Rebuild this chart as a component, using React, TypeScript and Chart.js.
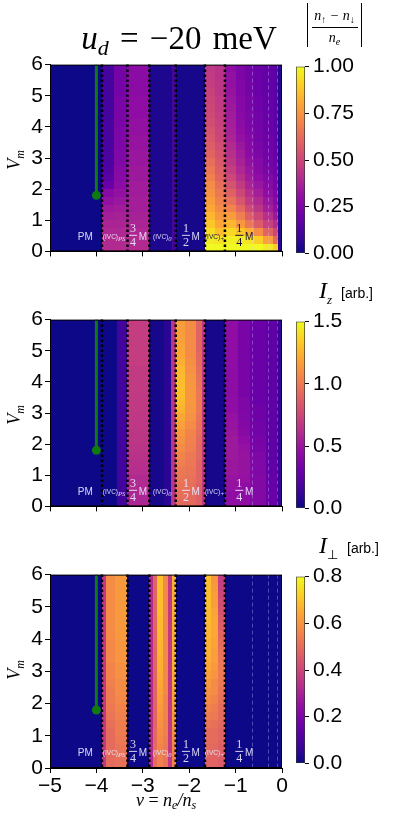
import React, { useEffect, useRef } from 'react';
import { Chart, registerables } from 'chart.js';
Chart.register(...registerables);
Chart.defaults.font.family = "'Liberation Sans', Arial, sans-serif";

// ---------------- data ----------------
const X_RANGE = [-5, 0];
const Y_RANGE = [0, 6];
const BOUNDARIES = [-3.88, -3.33, -2.86, -2.29, -1.66, -1.23];
const FAINT_LINES = [-0.65, -0.3, -0.1];
const GREEN_LINE_X = [-4, -4];
const GREEN_LINE_Y = [6, 1.8];

const CB1_MAX = 1.0, CB1_STEP = 0.25, CB1_DEC = 2;
const CB2_MAX = 1.5, CB2_STEP = 0.5, CB2_DEC = 1;
const CB3_MAX = 0.8, CB3_STEP = 0.2, CB3_DEC = 1;

// values listed from V=0 (bottom) upward, rows evenly spanning 0..6
// Panel 1 : |(n_up - n_down)/n_e|
const P1_BG = [0];
const P1_PS_L = [0.4,0.4,0.39,0.38,0.36,0.34,0.31,0.28,0.2,0.16,0.14,0.13,0.13,0.12,0.12,0.12,0.12,0.11,0.11,0.11,0.11,0.11,0.11,0.11];
const P1_PS_R = [0.4,0.4,0.39,0.38,0.37,0.35,0.33,0.31,0.29,0.28,0.27,0.26,0.26,0.25,0.25,0.25,0.24,0.24,0.24,0.24,0.23,0.23,0.23,0.23];
const P1_34M = [0.4,0.4,0.39,0.38,0.37,0.36,0.36,0.35,0.35,0.34,0.34,0.33,0.33,0.32,0.32,0.31,0.31,0.3,0.3,0.3,0.29,0.29,0.29,0.29];
const P1_IVC0 = [0.03];
const P1_IVC0_EDGE = [0.12];
const P1_12M = [0.02];
const P1_IVCP_L = [1.0,0.97,0.93,0.88,0.84,0.8,0.77,0.74,0.72,0.69,0.66,0.63,0.6,0.58,0.56,0.54,0.52,0.51,0.5,0.49,0.48,0.47,0.46,0.45];
const P1_IVCP_R = [1.0,0.95,0.86,0.8,0.76,0.72,0.69,0.66,0.63,0.6,0.58,0.56,0.54,0.52,0.5,0.49,0.48,0.47,0.46,0.45,0.44,0.44,0.43,0.43];
const P1_14M_A = [1.0,0.98,0.92,0.84,0.77,0.7,0.64,0.59,0.54,0.5,0.47,0.44,0.42,0.4,0.38,0.37,0.36,0.35,0.34,0.33,0.32,0.31,0.31,0.3];
const P1_14M_B = [1.0,0.97,0.88,0.76,0.68,0.61,0.55,0.5,0.46,0.42,0.39,0.37,0.35,0.33,0.31,0.3,0.29,0.28,0.27,0.27,0.26,0.26,0.25,0.25];
const P1_14M_C = [1.0,0.95,0.82,0.66,0.58,0.51,0.46,0.42,0.38,0.35,0.33,0.31,0.29,0.28,0.27,0.26,0.25,0.25,0.24,0.24,0.23,0.23,0.22,0.22];
const P1_14M_D = [1.0,0.9,0.72,0.57,0.5,0.44,0.4,0.36,0.33,0.3,0.28,0.27,0.25,0.24,0.23,0.23,0.22,0.22,0.21,0.21,0.2,0.2,0.2,0.2];
const P1_14M_E = [0.97,0.78,0.6,0.48,0.42,0.36,0.33,0.3,0.28,0.26,0.24,0.23,0.22,0.21,0.21,0.2,0.2,0.19,0.19,0.19,0.18,0.18,0.18,0.18];
const P1_14M_F = [0.9,0.62,0.5,0.4,0.34,0.3,0.27,0.25,0.23,0.22,0.21,0.2,0.19,0.19,0.18,0.18,0.17,0.17,0.17,0.16,0.16,0.16,0.16,0.16];
const P1_14M_G = [0.05];

// Panel 2 : I_z
const P2_BG = [0];
const P2_PS_EDGE = [0.15];
const P2_34M = [0.58,0.58,0.6,0.6,0.62,0.63,0.64,0.65,0.66,0.66,0.67,0.67,0.68,0.68,0.68,0.69,0.69,0.69,0.7,0.7,0.7,0.7,0.7,0.7];
const P2_IVC0 = [0.03];
const P2_IVC0_MID = [0.08];
const P2_IVC0_EDGE = [0.65];
const P2_12M_A = [0.93,0.95,0.96,0.98,0.99,1.02,1.05,1.08,1.11,1.14,1.17,1.2,1.25,1.28,1.29,1.29,1.28,1.26,1.23,1.2,1.19,1.17,1.16,1.16];
const P2_12M_B = [0.93,0.93,0.95,0.96,0.98,0.99,1.0,1.02,1.04,1.05,1.08,1.11,1.13,1.14,1.14,1.14,1.13,1.11,1.1,1.08,1.08,1.08,1.08,1.08];
const P2_12M_C = [0.88,0.88,0.88,0.9,0.9,0.9,0.92,0.92,0.93,0.95,0.96,0.98,1.0,1.0,1.0,0.98,0.96,0.95,0.93,0.92,0.9,0.9,0.9,0.9];
const P2_12M_D = [0.68];
const P2_IVCP = [0.03];
const P2_14M_A = [0.45,0.45,0.47,0.48,0.5,0.5,0.51,0.51,0.51,0.5,0.48,0.47,0.45,0.45,0.44,0.44,0.44,0.44,0.45,0.45,0.45,0.45,0.45,0.45];
const P2_14M_B = [0.45,0.45,0.45,0.47,0.48,0.48,0.48,0.47,0.45,0.42,0.41,0.39,0.38,0.38,0.36,0.36,0.36,0.36,0.36,0.36,0.36,0.36,0.36,0.36];
const P2_14M_C = [0.4,0.4,0.4,0.4,0.39,0.39,0.38,0.36,0.35,0.33,0.33,0.32,0.32,0.3,0.3,0.3,0.3,0.3,0.3,0.3,0.3,0.3,0.3,0.3];
const P2_14M_D = [0.3,0.3,0.29,0.28,0.27,0.27,0.26,0.26,0.26,0.26,0.26,0.26,0.26,0.26,0.26,0.26,0.26,0.26,0.26,0.26,0.26,0.26,0.26,0.26];
const P2_14M_E = [0.12];

// Panel 3 : I_perp
const P3_BG = [0];
const P3_PS_EDGE = [0.36];
const P3_PS_A = [0.5,0.5,0.5,0.5,0.5,0.51,0.52,0.53,0.54,0.54,0.55,0.56,0.56,0.57,0.57,0.57,0.58,0.58,0.58,0.58,0.58,0.58,0.58,0.58];
const P3_PS_B = [0.51,0.51,0.52,0.53,0.54,0.54,0.55,0.56,0.57,0.58,0.58,0.59,0.59,0.6,0.6,0.6,0.61,0.61,0.61,0.61,0.61,0.61,0.61,0.61];
const P3_IVC0_A = [0.32];
const P3_IVC0_B = [0.5,0.5,0.5,0.49,0.49,0.48,0.48,0.48,0.48,0.48,0.48,0.48,0.48,0.48,0.48,0.48,0.48,0.48,0.48,0.48,0.48,0.48,0.48,0.48];
const P3_IVC0_C = [0.55,0.55,0.56,0.57,0.58,0.59,0.6,0.61,0.62,0.63,0.64,0.65,0.66,0.66,0.67,0.67,0.68,0.68,0.68,0.69,0.69,0.69,0.69,0.69];
const P3_IVC0_D = [0.52,0.52,0.53,0.54,0.55,0.55,0.56,0.56,0.56,0.57,0.57,0.57,0.57,0.57,0.57,0.57,0.57,0.57,0.57,0.57,0.57,0.57,0.57,0.57];
const P3_IVC0_E = [0.36];
const P3_IVC0_F = [0.56,0.56,0.57,0.58,0.59,0.6,0.61,0.62,0.63,0.64,0.65,0.65,0.66,0.66,0.66,0.66,0.66,0.66,0.66,0.66,0.66,0.66,0.66,0.66];
const P3_IVCP_A = [0.48,0.48,0.49,0.5,0.5,0.52,0.54,0.56,0.58,0.59,0.61,0.62,0.64,0.65,0.66,0.66,0.67,0.67,0.68,0.68,0.69,0.69,0.69,0.69];
const P3_IVCP_B = [0.48,0.48,0.49,0.5,0.5,0.51,0.53,0.54,0.56,0.58,0.58,0.6,0.61,0.62,0.62,0.63,0.64,0.64,0.64,0.63,0.62,0.62,0.61,0.6];
const P3_IVCP_C = [0.46,0.46,0.47,0.48,0.48,0.49,0.5,0.5,0.51,0.52,0.53,0.53,0.53,0.52,0.51,0.5,0.48,0.46,0.45,0.43,0.42,0.4,0.38,0.37];

const P1_BANDS = [
  [-5, 0, P1_BG], [-3.88, -3.62, P1_PS_L], [-3.62, -3.33, P1_PS_R], [-3.33, -2.86, P1_34M],
  [-2.86, -2.38, P1_IVC0], [-2.38, -2.29, P1_IVC0_EDGE], [-2.29, -1.66, P1_12M],
  [-1.66, -1.45, P1_IVCP_L], [-1.45, -1.23, P1_IVCP_R],
  [-1.23, -1.0, P1_14M_A], [-1.0, -0.8, P1_14M_B], [-0.8, -0.6, P1_14M_C], [-0.6, -0.4, P1_14M_D],
  [-0.4, -0.2, P1_14M_E], [-0.2, -0.09, P1_14M_F], [-0.09, 0, P1_14M_G],
];
const P2_BANDS = [
  [-5, 0, P2_BG], [-3.55, -3.33, P2_PS_EDGE], [-3.33, -2.86, P2_34M],
  [-2.86, -2.55, P2_IVC0], [-2.55, -2.4, P2_IVC0_MID], [-2.4, -2.29, P2_IVC0_EDGE],
  [-2.29, -2.1, P2_12M_A], [-2.1, -1.85, P2_12M_B], [-1.85, -1.72, P2_12M_C], [-1.72, -1.66, P2_12M_D],
  [-1.66, -1.23, P2_IVCP],
  [-1.23, -0.95, P2_14M_A], [-0.95, -0.7, P2_14M_B], [-0.7, -0.35, P2_14M_C], [-0.35, -0.1, P2_14M_D], [-0.1, 0, P2_14M_E],
];
const P3_BANDS = [
  [-5, 0, P3_BG], [-3.88, -3.8, P3_PS_EDGE], [-3.8, -3.6, P3_PS_A], [-3.6, -3.33, P3_PS_B],
  [-2.86, -2.78, P3_IVC0_A], [-2.78, -2.7, P3_IVC0_B], [-2.7, -2.56, P3_IVC0_C], [-2.56, -2.46, P3_IVC0_D],
  [-2.46, -2.37, P3_IVC0_E], [-2.37, -2.29, P3_IVC0_F],
  [-1.66, -1.52, P3_IVCP_A], [-1.52, -1.38, P3_IVCP_B], [-1.38, -1.23, P3_IVCP_C],
];

const PHASE_LABELS = [
  { kind: 'text', text: 'PM', x: -4.24 },
  { kind: 'sub', text: '(IVC)', sub: 'PS', x: -3.62 },
  { kind: 'frac', num: '3', den: '4', x: -3.21 },
  { kind: 'text', text: 'M', x: -3.0 },
  { kind: 'sub', text: '(IVC)', sub: '0', x: -2.58 },
  { kind: 'frac', num: '1', den: '2', x: -2.07 },
  { kind: 'text', text: 'M', x: -1.86 },
  { kind: 'sub', text: '(IVC)', sub: '+', x: -1.45 },
  { kind: 'frac', num: '1', den: '4', x: -0.92 },
  { kind: 'text', text: 'M', x: -0.71 },
];
const LABEL_V = 0.5;
const P1_DARK_LABELS = [7, 8, 9];

// ---------------- style helpers ----------------
const PLASMA = ['#0d0887','#41049d','#6a00a8','#8f0da4','#b12a90','#cc4778','#e16462','#f2844b','#fca636','#fcce25','#f0f921'];
const PLASMA_RGB = PLASMA.map((h) => [1, 3, 5].map((i) => parseInt(h.slice(i, i + 2), 16)));
function plasma(t: number) {
  const c = Math.max(0, Math.min(1, t)) * 10;
  const i = Math.min(9, Math.floor(c));
  const f = c - i;
  const a = PLASMA_RGB[i], b = PLASMA_RGB[i + 1];
  return `rgb(${Math.round(a[0] + (b[0] - a[0]) * f)},${Math.round(a[1] + (b[1] - a[1]) * f)},${Math.round(a[2] + (b[2] - a[2]) * f)})`;
}
const GREEN = '#0f7a0f';
const SERIF = "'Liberation Serif', 'Times New Roman', serif";
const SANS = "'Liberation Sans', Arial, sans-serif";
const fmtMinus = (v: any) => (Number(v) < 0 ? '\u2212' + Math.abs(Number(v)) : String(v));

function heatmapPlugin(bands: any[], max: number, darkLabels: number[]) {
  return {
    id: 'heatmap',
    beforeDatasetsDraw(chart: any) {
      const { ctx, chartArea: ca, scales } = chart;
      const xs = scales.x, ys = scales.y;
      ctx.save();
      for (const [x0, x1, vals] of bands) {
        const n = vals.length;
        const l = Math.round(xs.getPixelForValue(x0));
        const r = Math.round(xs.getPixelForValue(x1));
        for (let i = 0; i < n; i++) {
          const v0 = Y_RANGE[0] + ((Y_RANGE[1] - Y_RANGE[0]) * i) / n;
          const v1 = Y_RANGE[0] + ((Y_RANGE[1] - Y_RANGE[0]) * (i + 1)) / n;
          const b = Math.round(ys.getPixelForValue(v0));
          const t = Math.round(ys.getPixelForValue(v1));
          ctx.fillStyle = plasma(vals[i] / max);
          ctx.fillRect(l, t, r - l, b - t);
        }
      }
      ctx.strokeStyle = 'rgba(210,200,255,0.35)';
      ctx.lineWidth = 1;
      ctx.setLineDash([4, 3]);
      for (const fx of FAINT_LINES) {
        const px = Math.round(xs.getPixelForValue(fx)) + 0.5;
        ctx.beginPath(); ctx.moveTo(px, ca.top); ctx.lineTo(px, ca.bottom); ctx.stroke();
      }
      ctx.strokeStyle = '#000';
      ctx.lineWidth = 2.5;
      ctx.setLineDash([2.5, 2.5]);
      for (const bx of BOUNDARIES) {
        const px = xs.getPixelForValue(bx);
        ctx.beginPath(); ctx.moveTo(px, ca.top); ctx.lineTo(px, ca.bottom); ctx.stroke();
      }
      ctx.restore();
    },
    afterDatasetsDraw(chart: any) {
      const { ctx, chartArea: ca, scales } = chart;
      const xs = scales.x, ys = scales.y;
      ctx.save();
      const yl = ys.getPixelForValue(LABEL_V);
      PHASE_LABELS.forEach((lab: any, idx: number) => {
        const px = xs.getPixelForValue(lab.x);
        ctx.fillStyle = darkLabels.includes(idx) ? '#1a1040' : 'rgba(235,235,255,0.9)';
        ctx.textBaseline = 'middle';
        if (lab.kind === 'text') {
          ctx.font = `10px ${SANS}`;
          ctx.textAlign = 'center';
          ctx.fillText(lab.text, px, yl + 1);
        } else if (lab.kind === 'sub') {
          ctx.font = `6.5px ${SANS}`;
          const w1 = ctx.measureText(lab.text).width;
          ctx.font = `italic 6.5px ${SERIF}`;
          const w2 = ctx.measureText(lab.sub).width;
          const start = px - (w1 + w2) / 2;
          ctx.textAlign = 'left';
          ctx.font = `6.5px ${SANS}`;
          ctx.fillText(lab.text, start, yl + 1);
          ctx.font = `italic 6.5px ${SERIF}`;
          ctx.fillText(lab.sub, start + w1, yl + 3);
        } else {
          ctx.font = `12px ${SERIF}`;
          ctx.textAlign = 'center';
          ctx.fillText(lab.num, px, yl - 7);
          ctx.fillRect(px - 4, yl - 1, 8, 1);
          ctx.fillText(lab.den, px, yl + 7);
        }
      });
      ctx.strokeStyle = '#000';
      ctx.lineWidth = 1;
      ctx.strokeRect(ca.left + 0.5, ca.top + 0.5, ca.right - ca.left - 1, ca.bottom - ca.top - 1);
      ctx.restore();
    },
  };
}

function makeMain(canvas: HTMLCanvasElement, bands: any[], max: number, showX: boolean, dark: number[]) {
  return new Chart(canvas, {
    type: 'scatter',
    data: {
      datasets: [{
        data: GREEN_LINE_X.map((x, k) => ({ x, y: GREEN_LINE_Y[k] })),
        showLine: true,
        borderColor: GREEN,
        backgroundColor: GREEN,
        borderWidth: 3,
        pointRadius: [0, 4.5],
        pointHoverRadius: 0,
        pointBorderWidth: 0,
      }],
    },
    options: {
      responsive: false,
      animation: false,
      events: [],
      layout: { padding: { top: 12, right: 8, left: 0, bottom: 0 } },
      plugins: { legend: { display: false }, tooltip: { enabled: false } },
      scales: {
        x: {
          type: 'linear', min: X_RANGE[0], max: X_RANGE[1],
          ticks: { stepSize: 1, display: showX, autoSkip: false, maxRotation: 0, color: '#000', font: { size: 21 }, padding: 1, callback: fmtMinus },
          grid: { drawOnChartArea: false, drawTicks: true, tickLength: 5, color: '#000' },
          border: { display: true, color: '#000', width: 1 },
          afterFit: (s: any) => { s.height = showX ? 36 : 8; },
        },
        y: {
          type: 'linear', min: Y_RANGE[0], max: Y_RANGE[1],
          ticks: { stepSize: 1, color: '#000', font: { size: 21 }, padding: 2, callback: fmtMinus },
          grid: { drawOnChartArea: false, drawTicks: true, tickLength: 5, color: '#000' },
          border: { display: true, color: '#000', width: 1 },
          afterFit: (s: any) => { s.width = 50; },
        },
      },
    } as any,
    plugins: [heatmapPlugin(bands, max, dark)],
  });
}

function makeColorbar(canvas: HTMLCanvasElement, max: number, step: number, dec: number) {
  return new Chart(canvas, {
    type: 'bar',
    data: {
      labels: [''],
      datasets: [{
        data: [[0, max]] as any,
        backgroundColor: (c: any) => {
          const ch = c.chart;
          const ca = ch.chartArea;
          if (!ca) return PLASMA[0];
          const g = ch.ctx.createLinearGradient(0, ca.bottom, 0, ca.top);
          PLASMA.forEach((col, i) => g.addColorStop(i / 10, col));
          return g;
        },
        borderColor: '#333',
        borderWidth: 1,
        borderSkipped: false,
        barPercentage: 1,
        categoryPercentage: 1,
      }],
    },
    options: {
      responsive: false,
      animation: false,
      events: [],
      layout: { padding: { left: 6, top: 12, bottom: 12, right: 0 } },
      plugins: { legend: { display: false }, tooltip: { enabled: false } },
      scales: {
        x: { display: false },
        y: {
          position: 'right', min: 0, max,
          ticks: { stepSize: step, color: '#000', font: { size: 21 }, padding: 4, callback: (v: any) => Number(v).toFixed(dec) },
          grid: { drawOnChartArea: false, drawTicks: true, tickLength: 4, color: '#000' },
          border: { display: false },
          afterFit: (s: any) => { s.width = 94; },
        },
      },
    } as any,
  });
}

const PANEL_TOPS = [62, 317, 572];
const PLOT_H = 196;

export default function App() {
  const m1 = useRef<HTMLCanvasElement>(null);
  const m2 = useRef<HTMLCanvasElement>(null);
  const m3 = useRef<HTMLCanvasElement>(null);
  const c1 = useRef<HTMLCanvasElement>(null);
  const c2 = useRef<HTMLCanvasElement>(null);
  const c3 = useRef<HTMLCanvasElement>(null);

  useEffect(() => {
    const charts = [
      makeMain(m1.current!, P1_BANDS, CB1_MAX, false, P1_DARK_LABELS),
      makeMain(m2.current!, P2_BANDS, CB2_MAX, false, []),
      makeMain(m3.current!, P3_BANDS, CB3_MAX, true, []),
      makeColorbar(c1.current!, CB1_MAX, CB1_STEP, CB1_DEC),
      makeColorbar(c2.current!, CB2_MAX, CB2_STEP, CB2_DEC),
      makeColorbar(c3.current!, CB3_MAX, CB3_STEP, CB3_DEC),
    ];
    return () => charts.forEach((c) => c.destroy());
  }, []);

  const mains = [m1, m2, m3];
  const cbs = [c1, c2, c3];

  return (
    <div style={{ position: 'absolute', left: 0, top: 0, width: 399, height: 824, background: '#fff', overflow: 'hidden' }}>
      {mains.map((r, i) => {
        const h = 12 + PLOT_H + (i === 2 ? 36 : 8);
        return <canvas key={'m' + i} ref={r} width={290} height={h} style={{ position: 'absolute', left: 0, top: PANEL_TOPS[i] - 12, width: 290, height: h }} />;
      })}
      {cbs.map((r, i) => (
        <canvas key={'c' + i} ref={r} width={109} height={220} style={{ position: 'absolute', left: 290, top: PANEL_TOPS[i] - 12, width: 109, height: 220 }} />
      ))}

      {/* title */}
      <div style={{ position: 'absolute', left: 0, top: 20, width: 358, textAlign: 'center', fontFamily: SERIF, fontSize: 33, lineHeight: '36px', whiteSpace: 'nowrap', wordSpacing: 3 }}>
        <span style={{ fontStyle: 'italic' }}>u</span>
        <span style={{ fontStyle: 'italic', fontSize: 22, position: 'relative', top: 6 }}>d</span>
        {' = \u221220 meV'}
      </div>

      {/* y labels */}
      {PANEL_TOPS.map((t, i) => (
        <div key={'yl' + i} style={{ position: 'absolute', left: -16, top: t + PLOT_H / 2 - 12, width: 60, height: 24, lineHeight: '24px', textAlign: 'center', transform: 'rotate(-90deg)', fontFamily: SERIF, fontStyle: 'italic', fontSize: 18, whiteSpace: 'nowrap' }}>
          V<span style={{ fontSize: 12, position: 'relative', top: 4 }}>m</span>
        </div>
      ))}

      {/* colorbar 1 label */}
      <div style={{ position: 'absolute', left: 307, top: 3, width: 0, height: 44, borderLeft: '1.3px solid #000' }} />
      <div style={{ position: 'absolute', left: 361, top: 3, width: 0, height: 44, borderLeft: '1.3px solid #000' }} />
      <div style={{ position: 'absolute', left: 309, top: 8, width: 51, textAlign: 'center', fontFamily: SERIF, fontStyle: 'italic', fontSize: 14, lineHeight: '16px', whiteSpace: 'nowrap' }}>
        n<span style={{ fontSize: 10, fontStyle: 'normal', position: 'relative', top: 3 }}>{'\u2191'}</span>{' \u2212 '}n<span style={{ fontSize: 10, fontStyle: 'normal', position: 'relative', top: 3 }}>{'\u2193'}</span>
      </div>
      <div style={{ position: 'absolute', left: 312, top: 27, width: 46, height: 1, background: '#000' }} />
      <div style={{ position: 'absolute', left: 309, top: 30, width: 51, textAlign: 'center', fontFamily: SERIF, fontStyle: 'italic', fontSize: 14, lineHeight: '16px', whiteSpace: 'nowrap' }}>
        n<span style={{ fontSize: 10, position: 'relative', top: 3 }}>e</span>
      </div>

      {/* colorbar 2 & 3 labels */}
      {[{ top: 278, sub: 'z' }, { top: 533, sub: '\u22a5' }].map((o, i) => (
        <div key={'cl' + i} style={{ position: 'absolute', left: 319, top: o.top, whiteSpace: 'nowrap', lineHeight: '24px' }}>
          <span style={{ fontFamily: SERIF, fontStyle: 'italic', fontSize: 24 }}>I</span>
          <span style={{ fontFamily: SERIF, fontStyle: i === 0 ? 'italic' : 'normal', fontSize: 13, position: 'relative', top: 6 }}>{o.sub}</span>
          <span style={{ fontFamily: SANS, fontSize: 14, marginLeft: 9 }}>[arb.]</span>
        </div>
      ))}

      {/* x label */}
      <div style={{ position: 'absolute', left: 66, top: 790, width: 200, textAlign: 'center', fontFamily: SERIF, fontStyle: 'italic', fontSize: 18, lineHeight: '20px', whiteSpace: 'nowrap' }}>
        {'\u03bd'}<span style={{ fontStyle: 'normal' }}>{' = '}</span>n<span style={{ fontSize: 12, position: 'relative', top: 3 }}>e</span>/n<span style={{ fontSize: 12, position: 'relative', top: 3 }}>s</span>
      </div>
    </div>
  );
}
